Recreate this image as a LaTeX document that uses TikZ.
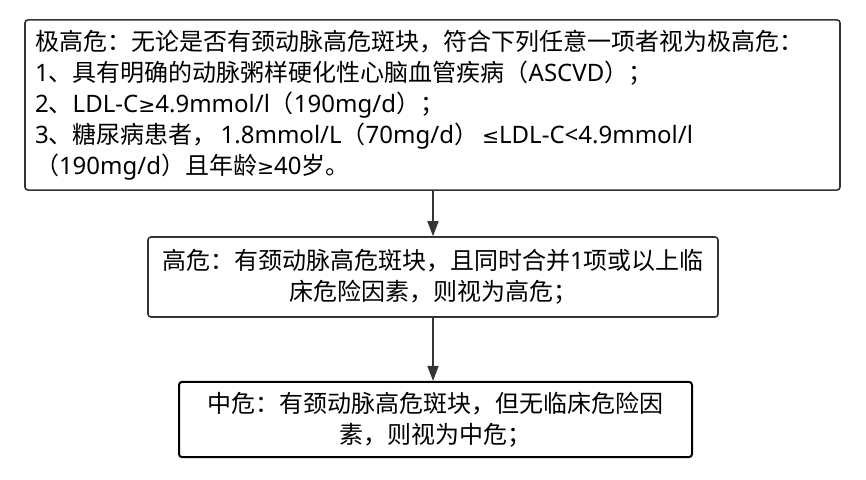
\documentclass[tikz,border=0pt]{standalone}
\usepackage{fontspec}
\setmainfont{Noto Sans CJK SC}
\newfontfamily\latfont{Noto Sans}
\newfontfamily\dvsfont[Scale=0.85]{DejaVu Sans}
\newcommand\ltn[1]{{\latfont #1}}
\newcommand\gequ{{\dvsfont ≥}}
\newcommand\lequ{{\dvsfont ≤}}
\usetikzlibrary{arrows.meta}

\begin{document}
\begin{tikzpicture}[x=1pt,y=-1pt]
\tikzstyle{every node}+=[font=\fontsize{24}{31}\selectfont]
\tikzstyle{riskbox}=[draw=black!80, line width=1.6pt, rounded corners=3pt, inner sep=10pt]
\tikzstyle{arr}=[draw=black!80, line width=1.6pt, -{Triangle[width=11pt,length=15pt]}]
\useasboundingbox (0,0) rectangle (866,479);
\node [riskbox, text width=795pt, minimum height=160pt, align=left] (vhigh) at (432.5,105)
  {极高危：无论是否有颈动脉高危斑块，符合下列任意一项者视为极高危：\\
   \ltn{1}、具有明确的动脉粥样硬化性心脑血管疾病（\ltn{ASCVD}）；\\
   \ltn{2}、\ltn{LDL-C}\gequ\ltn{4.9mmol/l}（\ltn{190mg/d}）；\\
   \ltn{3}、糖尿病患者，\ltn{\,1.8mmol/L}（\ltn{70mg/d}）\,\lequ\ltn{LDL-C<4.9mmol/l}\\
   （\ltn{190mg/d}）且年龄\gequ\ltn{40}岁。};
\node [riskbox, minimum width=570pt, minimum height=80pt, align=center] (high) at (433,277)
  {高危：有颈动脉高危斑块，且同时合并\ltn{1}项或以上临\\床危险因素，则视为高危；};
\node [riskbox, draw=black, line width=2pt, minimum width=513pt, minimum height=69pt, align=center] (mid) at (435.5,419.5)
  {中危：有颈动脉高危斑块，但无临床危险因\\素，则视为中危；};
\draw [arr] (high.north |- vhigh.south) -- (high.north);
\draw [arr] (high.south) -- (high.south |- mid.north);
\end{tikzpicture}
\end{document}
